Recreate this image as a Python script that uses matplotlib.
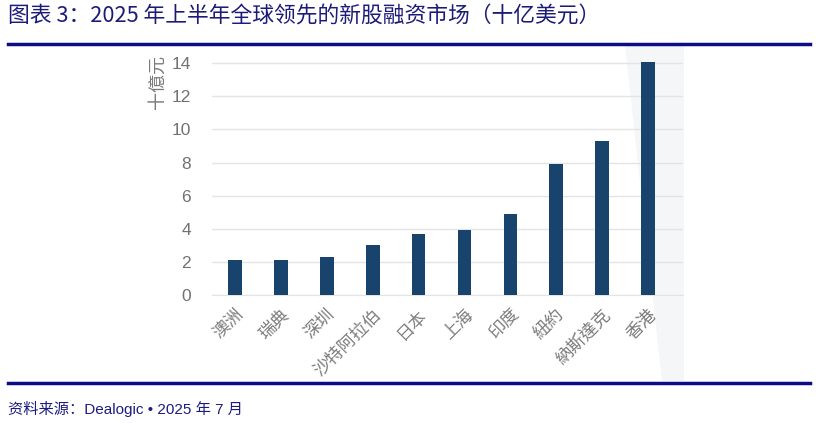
import numpy as np
import matplotlib
matplotlib.use('Agg')
import matplotlib.pyplot as plt
from matplotlib.patches import Polygon
from matplotlib.lines import Line2D

plt.rcParams['font.family'] = ['Liberation Sans', 'Noto Sans CJK TC']

# data
markets = ['澳洲', '瑞典', '深圳', '沙特阿拉伯', '日本', '上海', '印度', '紐約', '納斯達克', '香港']
values = [2.1, 2.1, 2.3, 3.0, 3.7, 3.9, 4.9, 7.9, 9.3, 14.1]
yticks = [0, 2, 4, 6, 8, 10, 12, 14]

W, H = 818, 423
fig = plt.figure(figsize=(W / 100, H / 100), dpi=100)

def fx(px):
    return px / W

def fy(py):
    return 1 - py / H

# faint background shape on right side of the pasted chart
bg = Polygon([(fx(625), fy(46)), (fx(684), fy(46)), (fx(684), fy(381)), (fx(662), fy(381))],
             closed=True, transform=fig.transFigure, facecolor='#f4f6f8', edgecolor='none', zorder=-5)
fig.add_artist(bg)

ax = fig.add_axes([fx(212), fy(295), fx(683) - fx(212), fy(55) - fy(295)])
ax.patch.set_alpha(0)
ax.set_zorder(2)

x = np.arange(len(markets))
ax.bar(x, values, width=0.3, color='#18436c', zorder=3)

ax.set_xlim(-0.5, 9.76)
ax.set_ylim(0, 14.5)
ax.set_yticks(yticks)
ax.yaxis.grid(True, color='#e4e4e4', linewidth=1.0, zorder=0)
for s in ['top', 'right', 'left']:
    ax.spines[s].set_visible(False)
ax.spines['bottom'].set_color('#e4e4e4')
ax.tick_params(axis='y', length=0, pad=15, labelsize=12.5, labelcolor='#727272')
ax.tick_params(axis='x', length=0, pad=8, labelcolor='#7c7c7c')
ax.set_xticks(x)
ax.set_xticklabels(markets, rotation=45, ha='right', rotation_mode='anchor', fontsize=12.5)

fig.text(fx(158), fy(82), '十億元', rotation=90, ha='center', va='center', fontsize=13, color='#7a7a7a')

# title, rules and source
fig.text(fx(8), fy(17), '图表 3：2025 年上半年全球领先的新股融资市场（十亿美元）',
         family=['Noto Sans CJK SC', 'DejaVu Sans'], fontsize=15.7, color='#1c1c78',
         ha='left', va='center', fontweight='medium')
fig.lines.append(Line2D([fx(8), fx(810)], [fy(44), fy(44)], transform=fig.transFigure,
                        color='#0c0c84', linewidth=2.5))
fig.lines.append(Line2D([fx(8), fx(810)], [fy(383), fy(383)], transform=fig.transFigure,
                        color='#0c0c84', linewidth=2.5))
fig.text(fx(8), fy(409), '资料来源：Dealogic • 2025 年 7 月',
         family=['Liberation Sans', 'Noto Sans CJK SC'], fontsize=11, color='#1c1c80',
         ha='left', va='center')

plt.savefig('out.png', dpi=100)
